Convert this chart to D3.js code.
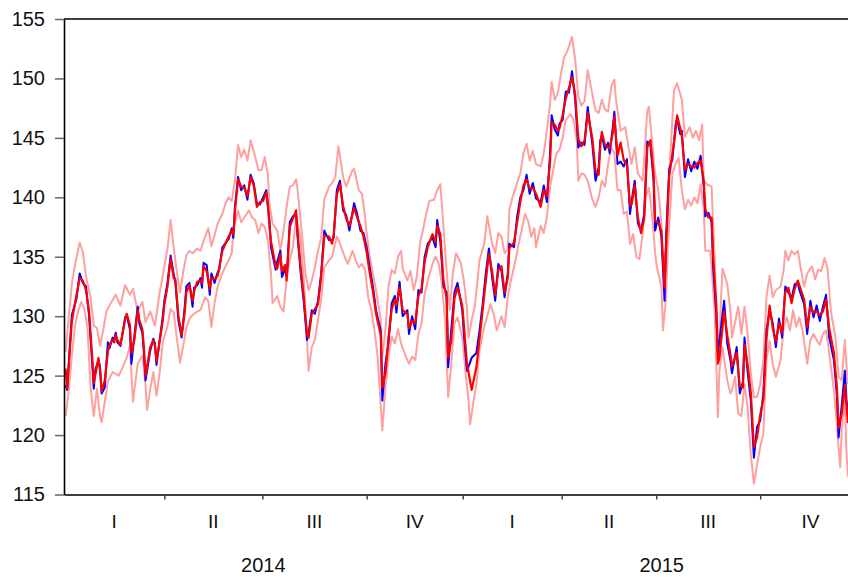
<!DOCTYPE html>
<html>
<head>
<meta charset="utf-8">
<script src="https://cdn.jsdelivr.net/npm/d3@7"></script>
<style>
  body { margin: 0; background: #fff; }
  text { font-family: 'Liberation Sans', Arial, sans-serif; }
</style>
</head>
<body>
<div id="chart"></div>
<script>
// ... data, x = trading-day index (0 = start of 2014)

const yTicks = [115, 120, 125, 130, 135, 140, 145, 150, 155];
const quarterBounds = [0, 64, 126.5, 193, 254.3, 317.4, 377.7, 444, 508];
const quarterLabels = ['I', 'II', 'III', 'IV', 'I', 'II', 'III', 'IV'];
const yearLabels = ['2014', '2015'];
const yearBounds = [0, 254.3, 508];

const mainDays = [
  1, 2, 5, 8, 10, 12, 14, 16, 18, 19,
  20, 22, 23, 24, 26, 27, 28, 29, 31, 32,
  33, 34, 36, 39, 40, 42, 43, 45, 47, 48,
  50, 51, 52, 55, 57, 58, 59, 63, 64, 66,
  68, 70, 71, 73, 75, 77, 78, 80, 82, 83,
  85, 87, 88, 89, 91, 93, 94, 96, 98, 99,
  101, 105, 107, 108, 109, 111, 113, 115, 117, 119,
  121, 123, 125, 127, 129, 130, 131, 132, 135, 136,
  138, 139, 141, 142, 144, 146, 148, 149, 151, 153,
  155, 156, 158, 160, 162, 164, 166, 169, 171, 172,
  174, 176, 178, 180, 182, 185, 187, 189, 191, 193,
  195, 197, 199, 202, 203, 205, 207, 209, 211, 212,
  214, 216, 219, 220, 222, 224, 226, 228, 230, 232,
  235, 237, 238, 240, 242, 244, 245, 247, 249, 251,
  254, 255, 257, 260, 263, 265, 267, 269, 271, 273,
  275, 277, 279, 281, 283, 284, 287, 289, 291, 293,
  295, 297, 299, 301, 304, 306, 308, 310, 311, 313,
  315, 316, 318, 320, 322, 324, 326, 328, 330, 332,
  334, 337, 339, 341, 342, 343, 345, 347, 348, 350,
  351, 353, 355, 357, 359, 361, 362, 364, 366, 368,
  370, 372, 374, 376, 377, 379, 381, 383, 384, 386,
  388, 390, 391, 393, 394, 396, 398, 400, 402, 404,
  406, 408, 409, 411, 413, 414, 416, 417, 418, 421,
  423, 425, 426, 429, 431, 433, 434, 436, 438, 440,
  442, 444, 446, 448, 450, 452, 454, 456, 458, 460,
  462, 464, 466, 468, 469, 472, 474, 476, 478, 480,
  482, 484, 486, 488, 491, 493, 494, 496, 498, 499,
  500
];

const blueVals = [
  124.2, 123.8, 130.1, 131.5, 133.6, 132.8, 132.5, 130.0, 126.0, 123.9,
  125.5, 126.3, 125.7, 123.5, 124.0, 126.0, 127.8, 127.3, 128.2, 128.0,
  128.6, 127.8, 127.5, 129.9, 130.1, 128.9, 126.0, 128.5, 130.8, 129.4,
  128.6, 126.8, 124.6, 127.1, 128.1, 127.7, 125.9, 130.0, 131.3, 132.8,
  135.1, 133.5, 132.9, 129.6, 128.2, 130.8, 132.5, 132.8, 130.8, 132.4,
  132.6, 133.2, 132.4, 134.5, 134.3, 131.8, 133.6, 132.8, 133.7, 133.9,
  135.8, 136.5, 137.4, 136.6, 139.2, 141.7, 140.6, 141.0, 139.8, 141.9,
  141.2, 139.5, 139.4, 140.0, 140.6, 139.2, 138.1, 135.8, 133.9, 134.6,
  135.5, 133.3, 134.0, 133.3, 137.9, 138.4, 138.6, 136.6, 133.6, 131.1,
  128.0, 128.6, 130.5, 130.2, 131.3, 133.6, 137.2, 136.4, 136.4, 136.6,
  140.6, 141.4, 138.9, 138.5, 137.2, 139.5, 138.6, 137.2, 137.0, 135.8,
  134.1, 132.5, 130.5, 128.8, 122.9, 126.0, 127.8, 131.1, 131.7, 130.3,
  132.9, 130.0, 130.5, 128.5, 130.0, 128.9, 132.2, 132.0, 135.0, 136.1,
  136.6, 135.8, 138.1, 136.3, 132.5, 132.0, 125.7, 128.9, 132.0, 132.8,
  130.5, 128.5, 125.4, 126.5, 126.9, 128.8, 131.0, 133.6, 135.7, 133.3,
  131.3, 134.4, 133.8, 131.6, 133.6, 136.1, 135.8, 138.4, 140.0, 140.6,
  141.9, 140.3, 141.2, 139.9, 139.6, 141.0, 139.6, 143.7, 146.9, 145.7,
  145.2, 146.2, 146.5, 148.9, 148.8, 150.6, 148.2, 144.2, 144.6, 144.4,
  147.6, 144.4, 141.4, 142.5, 144.8, 145.2, 144.0, 144.6, 143.7, 145.9,
  147.2, 142.8, 143.0, 142.6, 143.2, 138.6, 139.7, 141.4, 137.8, 137.2,
  138.6, 144.7, 144.4, 141.4, 137.2, 138.3, 136.7, 131.3, 136.7, 142.4,
  143.2, 146.1, 146.6, 145.3, 145.6, 141.7, 143.2, 142.2, 143.0, 142.4,
  143.5, 140.9, 138.4, 138.7, 137.9, 134.1, 130.2, 126.8, 127.9, 131.3,
  127.7, 126.3, 125.2, 127.4, 123.5, 124.5, 128.2, 125.3, 122.9, 118.1,
  120.7, 121.2, 123.5, 128.8, 130.5, 129.4, 127.4, 129.8, 128.2, 132.5,
  132.0, 131.5, 132.7, 132.8, 132.2, 131.0, 128.5, 131.3, 129.9, 130.9,
  129.6, 130.8, 131.8, 128.2, 126.3, 123.2, 119.8, 122.5, 125.4, 123.0,
  121.8
];

const redVals = [
  125.6, 123.9, 129.6, 131.8, 133.2, 133.0, 132.2, 130.4, 126.5, 124.4,
  125.1, 126.5, 125.4, 123.7, 124.6, 125.8, 127.0, 127.6, 128.0, 127.8,
  128.4, 128.0, 127.6, 129.7, 130.2, 129.3, 126.9, 128.1, 130.5, 129.7,
  128.9, 127.3, 125.0, 127.4, 128.0, 127.5, 126.2, 129.6, 131.0, 132.5,
  134.8, 133.2, 133.1, 130.0, 128.4, 130.3, 132.0, 132.6, 131.3, 132.1,
  132.9, 133.0, 132.8, 134.2, 133.8, 132.3, 133.2, 133.1, 133.4, 134.1,
  135.5, 136.7, 137.2, 136.9, 138.8, 141.5, 140.9, 140.8, 140.1, 141.7,
  141.0, 139.2, 139.6, 139.7, 140.4, 139.5, 137.6, 136.3, 134.2, 134.0,
  135.2, 133.8, 134.3, 133.0, 137.5, 138.2, 138.9, 137.0, 134.0, 131.5,
  128.4, 128.2, 130.2, 130.6, 131.0, 133.3, 136.8, 136.7, 136.1, 136.9,
  140.2, 141.1, 139.3, 138.2, 137.6, 139.1, 138.3, 137.6, 136.7, 135.4,
  133.6, 132.1, 130.2, 128.4, 124.0, 125.2, 128.3, 130.6, 131.4, 130.9,
  132.4, 130.5, 130.2, 129.0, 129.6, 129.4, 131.7, 132.3, 134.6, 135.8,
  136.9, 136.2, 137.6, 136.9, 133.0, 131.5, 126.5, 128.0, 131.5, 132.4,
  130.9, 129.3, 126.0, 123.8, 125.7, 128.1, 130.5, 133.0, 135.2, 133.8,
  131.8, 133.9, 134.2, 132.0, 133.2, 135.7, 136.2, 137.9, 139.6, 141.0,
  141.5, 140.7, 140.8, 140.3, 139.2, 140.6, 140.1, 143.0, 146.3, 146.1,
  145.6, 145.8, 146.9, 148.3, 149.2, 150.1, 148.7, 144.9, 144.3, 144.8,
  147.1, 144.9, 142.2, 141.9, 144.3, 145.5, 144.4, 144.2, 144.1, 145.4,
  146.8, 143.5, 144.6, 143.1, 142.8, 139.3, 139.4, 141.0, 138.3, 137.0,
  138.2, 144.2, 144.8, 142.0, 138.0, 137.9, 137.2, 132.4, 135.8, 141.8,
  143.6, 145.6, 146.9, 145.8, 145.2, 142.3, 142.8, 142.6, 142.5, 142.9,
  143.1, 141.4, 139.0, 138.3, 138.3, 135.0, 131.0, 126.0, 126.5, 130.4,
  128.4, 126.8, 125.8, 126.9, 124.1, 124.0, 127.6, 125.9, 123.6, 119.0,
  119.8, 121.7, 123.0, 128.1, 130.9, 129.0, 127.9, 129.4, 128.6, 132.0,
  132.4, 131.1, 132.3, 133.0, 132.6, 131.4, 129.1, 130.8, 130.3, 130.4,
  130.1, 130.4, 131.4, 129.0, 126.9, 123.9, 120.6, 121.8, 124.2, 122.5,
  121.0
];

const upperBand = [
  [1, 127], [5, 132.7], [7, 134.3], [10, 136.2], [12, 135.4], [14, 133.4], [17, 131.5], [19, 129.2], [21, 129], [23, 127.5],
  [25, 128.8], [27, 130.4], [29, 130.9], [33, 131.8], [36, 130.9], [39, 132.6], [42, 131.8], [44, 132.3], [47, 130.4], [50, 131.2],
  [52, 129.5], [55, 130.4], [58, 129.2], [61, 132], [63, 133.4], [66, 135.7], [68, 138.1], [70, 135.7], [72, 133.7], [74, 132],
  [76, 133.7], [78, 135.1], [80, 135.5], [82, 135.3], [85, 135.7], [87, 135.5], [90, 136.7], [92, 137.4], [94, 135.9], [96, 136.8],
  [98, 137.8], [101, 138.6], [103, 139.5], [105, 140], [107, 139.7], [109, 141.4], [111, 144.4], [113, 143.4], [115, 144], [117, 143.1],
  [119, 144.8], [121, 143.9], [124, 142.3], [126, 142.3], [128, 143.4], [130, 142], [131, 139.5], [133, 137.8], [136, 137.2], [138, 135.5],
  [140, 137.2], [142, 139.2], [144, 140.9], [146, 141], [148, 141.5], [149, 140.6], [152, 136.6], [154, 133.6], [156, 132.2], [158, 133],
  [160, 134.1], [162, 135.5], [164, 136.6], [166, 139.8], [169, 140.9], [171, 141.2], [173, 141.7], [175, 144.3], [178, 141.7], [180, 140.9],
  [184, 142.3], [185, 142.4], [188, 140.6], [190, 140.3], [192, 138.4], [193, 137], [195, 135], [197, 133.6], [199, 132.2], [202, 129.7],
  [203, 126.6], [205, 128.9], [207, 132.5], [209, 133.9], [211, 133.6], [213, 135], [215, 135.5], [216, 134], [219, 133], [221, 133.8],
  [223, 132.2], [225, 133.3], [227, 136.1], [229, 137.3], [231, 138.6], [233, 139.7], [236, 139.8], [238, 140.6], [240, 141.1], [242, 137.5],
  [244, 133.9], [246, 130.5], [248, 133.6], [250, 135.3], [253, 134.5], [255, 133], [257, 130.7], [258, 128.2], [260, 129.7], [262, 130.8],
  [265, 134.7], [268, 136.1], [270, 138.4], [273, 136.1], [275, 135.3], [277, 137], [279, 136.7], [281, 135.3], [283, 135.6], [284, 138.9],
  [286, 140], [289, 141.2], [291, 142], [293, 143.7], [295, 144.5], [297, 143.1], [299, 143.9], [301, 142.8], [304, 142.6], [306, 143.7],
  [308, 145.7], [310, 147.9], [311, 149.7], [313, 148.2], [315, 148.8], [317, 150.4], [319, 151.8], [321, 152.3], [324, 153.5], [326, 151.6],
  [328, 148.5], [330, 147.7], [332, 148.1], [334, 150.7], [336, 149.3], [339, 147.3], [341, 147.1], [343, 148.2], [345, 147.4], [347, 147.2],
  [349, 149.3], [351, 149.9], [352, 148.2], [354, 146.5], [355, 145.6], [358, 145.9], [360, 144.2], [362, 142.8], [364, 144.2], [366, 142],
  [369, 141.4], [370, 143.1], [372, 147.3], [373, 147.6], [375, 144.8], [377, 142], [379, 140.6], [381, 137.8], [382, 134.1], [384, 135.8],
  [385, 140], [387, 144.2], [389, 149], [391, 149.6], [393, 148.7], [394, 148.2], [396, 145.1], [399, 145.9], [401, 145], [403, 145.6],
  [405, 144.8], [407, 146.1], [408, 141.4], [410, 141.1], [413, 140.9], [415, 134.7], [416, 130.2], [418, 127.4], [419, 131.5], [420, 134],
  [423, 132.7], [425, 130.4], [426, 128.2], [428, 129.5], [430, 130.8], [432, 128.5], [434, 130.8], [436, 128.5], [438, 125.2], [440, 123.2],
  [442, 123.2], [444, 124.3], [446, 126.3], [448, 131.6], [450, 133.4], [452, 131.6], [454, 132.2], [457, 132.5], [459, 133.9], [460, 135.5],
  [462, 134.7], [464, 135.5], [466, 135.2], [468, 135.5], [470, 133.9], [472, 132.5], [474, 133.6], [477, 134.2], [479, 133.1], [481, 133.9],
  [483, 133.8], [485, 134.9], [487, 134], [489, 130.5], [492, 128.2], [494, 124.9], [496, 124.6], [498, 128], [499, 125.8], [500, 124.3]
];

const lowerBand = [
  [1, 121.6], [3, 123.6], [5, 126.7], [7, 129.2], [9, 130.4], [11, 131.2], [13, 130.6], [15, 129], [17, 123.9], [19, 121.6],
  [21, 123.9], [23, 121.6], [24, 121.1], [26, 122.8], [28, 124.5], [31, 125.3], [35, 125], [38, 125.9], [40, 126.5], [42, 127.5],
  [44, 122.8], [45, 123.9], [47, 126], [50, 126.7], [52, 124.2], [53, 122.1], [55, 123.9], [57, 125.3], [59, 123.3], [61, 125.3],
  [63, 127.8], [66, 129.2], [68, 130.6], [70, 130.3], [72, 128.1], [74, 126.1], [76, 127.5], [78, 129], [80, 129.8], [82, 130.1],
  [85, 130.4], [87, 130.5], [90, 131.6], [92, 131.3], [94, 129.1], [96, 131.1], [98, 132.5], [101, 133.6], [103, 134.2], [105, 134.7],
  [107, 135.3], [108, 137.2], [111, 138.9], [113, 137.9], [115, 138.3], [118, 138.9], [120, 138.3], [122, 138.1], [124, 137], [126, 137.8],
  [128, 137.5], [130, 136.4], [132, 133.6], [133, 131.1], [136, 131.7], [138, 130.8], [140, 130.4], [142, 133.2], [144, 134.7], [146, 135.8],
  [148, 138.5], [151, 136.4], [153, 133], [155, 128], [156, 125.4], [158, 127.4], [160, 128], [162, 129.7], [164, 131.4], [166, 134.1],
  [169, 134.7], [171, 135], [174, 136.7], [176, 136.1], [179, 135], [181, 134.4], [184, 135.5], [186, 134.7], [188, 134.1], [190, 134.4],
  [192, 133.9], [194, 131.6], [196, 130.5], [198, 128.8], [200, 126.6], [203, 120.4], [205, 124], [207, 126.6], [209, 128.3], [211, 127.7],
  [213, 128.9], [215, 127.7], [218, 126.6], [220, 126], [222, 126.6], [224, 126.3], [226, 128.5], [228, 129.4], [230, 131.9], [232, 133],
  [235, 134.4], [237, 135], [239, 134.4], [241, 132.7], [243, 129.7], [245, 123.2], [247, 126], [249, 129.4], [251, 129.9], [254, 128.2],
  [256, 125.4], [258, 122.9], [259, 120.9], [261, 122.7], [263, 124.3], [265, 127.1], [268, 129.1], [272, 131], [274, 130.2], [276, 128.8],
  [279, 130], [281, 129.1], [283, 131.6], [285, 133], [288, 134.7], [290, 136.1], [292, 137.3], [294, 138.6], [296, 138], [298, 136.7],
  [300, 137.4], [301, 135.8], [304, 137.6], [306, 137], [308, 138.4], [310, 140.9], [312, 142.3], [314, 143.7], [316, 144], [318, 145],
  [320, 146.5], [323, 147], [325, 146.5], [327, 144.8], [328, 141.4], [330, 142], [332, 141.9], [334, 141.4], [337, 139.8], [339, 139.2],
  [341, 140], [343, 141.4], [345, 140.9], [347, 142.8], [349, 144.2], [351, 143.7], [353, 140.6], [355, 140.6], [357, 138.6], [359, 138.8],
  [361, 136.1], [363, 136.9], [365, 135], [367, 134.8], [369, 136.9], [371, 140], [373, 140.8], [375, 138.6], [377, 135.3], [378, 134.2],
  [381, 132.5], [382, 128.8], [384, 131.6], [385, 135.5], [388, 142], [390, 142.8], [392, 143.3], [394, 140.6], [396, 139], [398, 139.8],
  [400, 139.3], [402, 140], [404, 139.5], [406, 141.1], [408, 138.9], [409, 135.5], [412, 135.5], [413, 134.1], [415, 130.2], [416, 126],
  [417, 121.5], [418, 125.4], [420, 127.4], [423, 124.6], [425, 123.5], [426, 123.8], [428, 124.9], [430, 121.8], [432, 121.6], [434, 124.3],
  [436, 122.3], [438, 118.4], [440, 115.9], [442, 117.5], [444, 119], [446, 120.1], [448, 126.3], [450, 127.9], [452, 126], [454, 124.9],
  [457, 126.3], [459, 129.1], [461, 129.9], [463, 128.8], [465, 130.5], [467, 129.1], [469, 129.9], [471, 128.8], [474, 126], [476, 128],
  [478, 128.5], [480, 128], [482, 127.6], [484, 128.5], [486, 128.8], [488, 126.9], [491, 123.8], [493, 120.7], [495, 117.3], [496, 120.4],
  [498, 123.2], [499, 118.5], [500, 116.5]
];

// ... chart area

const margin = { top: 19, right: 0, bottom: 82.5, left: 64 };
const width = 848 - margin.left - margin.right;
const height = 577 - margin.top - margin.bottom;

const x = d3.scaleLinear()
    .domain([0, 500])
    .range([0, width]);

const y = d3.scaleLinear()
    .domain([115, 155])
    .range([height, 0]);

const svg = d3.select('#chart').append('svg')
    .attr('width', 848)
    .attr('height', 577)
    .append('g')
    .attr('transform', 'translate(' + margin.left + ',' + margin.top + ')');

svg.append('defs')
    .append('clipPath')
    .attr('id', 'clip')
    .append('rect')
    .attr('x', 0)
    .attr('y', 0)
    .attr('width', width + 2)
    .attr('height', height);

const body = svg.append('g')
    .attr('clip-path', 'url(#clip)');

const line = d3.line()
    .x(function (d) { return x(d[0]); })
    .y(function (d) { return y(d[1]); });

const blueData = mainDays.map(function (d, i) { return [d, blueVals[i]]; });
const redData = mainDays.map(function (d, i) { return [d, redVals[i]]; });

// ... bands, then the two main series

[upperBand, lowerBand].forEach(function (band) {
    body.append('path')
        .datum(band)
        .attr('fill', 'none')
        .attr('stroke', '#ffa0a0')
        .attr('stroke-width', 2)
        .attr('stroke-linejoin', 'round')
        .attr('d', line);
});

body.append('path')
    .datum(blueData)
    .attr('fill', 'none')
    .attr('stroke', '#0000ff')
    .attr('stroke-width', 2)
    .attr('stroke-linejoin', 'round')
    .attr('d', line);

body.append('path')
    .datum(redData)
    .attr('fill', 'none')
    .attr('stroke', '#ff0000')
    .attr('stroke-width', 2.2)
    .attr('stroke-linejoin', 'round')
    .attr('d', line);

// ... y axis

const yAxis = svg.append('g')
    .attr('class', 'y axis')
    .call(d3.axisLeft(y)
        .tickValues(yTicks)
        .tickSize(9)
        .tickSizeOuter(0)
        .tickPadding(10)
        .tickFormat(d3.format('d')));

yAxis.select('.domain')
    .attr('stroke', '#000')
    .attr('stroke-width', 1.6);
yAxis.selectAll('.tick line')
    .attr('stroke', '#666')
    .attr('stroke-width', 1.5);
yAxis.selectAll('.tick text')
    .attr('fill', '#111')
    .style('font-size', '20px');

// ... x axis with quarter ticks

const xAxis = svg.append('g')
    .attr('class', 'x axis')
    .attr('transform', 'translate(0,' + height + ')')
    .call(d3.axisBottom(x)
        .tickValues(quarterBounds.slice(1, -1))
        .tickSize(5)
        .tickSizeOuter(0)
        .tickFormat(''));

xAxis.select('.domain')
    .attr('stroke', '#000')
    .attr('stroke-width', 1.6);
xAxis.selectAll('.tick line')
    .attr('stroke', '#444')
    .attr('stroke-width', 1.5);

xAxis.selectAll('.qlabel')
    .data(quarterLabels)
    .enter().append('text')
    .attr('class', 'qlabel')
    .attr('x', function (d, i) { return x((quarterBounds[i] + quarterBounds[i + 1]) / 2); })
    .attr('y', 33.5)
    .attr('text-anchor', 'middle')
    .attr('fill', '#111')
    .style('font-size', '19px')
    .text(function (d) { return d; });

xAxis.selectAll('.ylabel')
    .data(yearLabels)
    .enter().append('text')
    .attr('class', 'ylabel')
    .attr('x', function (d, i) { return x((yearBounds[i] + yearBounds[i + 1]) / 2); })
    .attr('y', 77)
    .attr('text-anchor', 'middle')
    .attr('fill', '#111')
    .style('font-size', '20px')
    .text(function (d) { return d; });

// ... top frame line

svg.append('line')
    .attr('x1', 0)
    .attr('x2', width)
    .attr('y1', 0)
    .attr('y2', 0)
    .attr('stroke', '#000')
    .attr('stroke-width', 1.6);
</script>
</body>
</html>
